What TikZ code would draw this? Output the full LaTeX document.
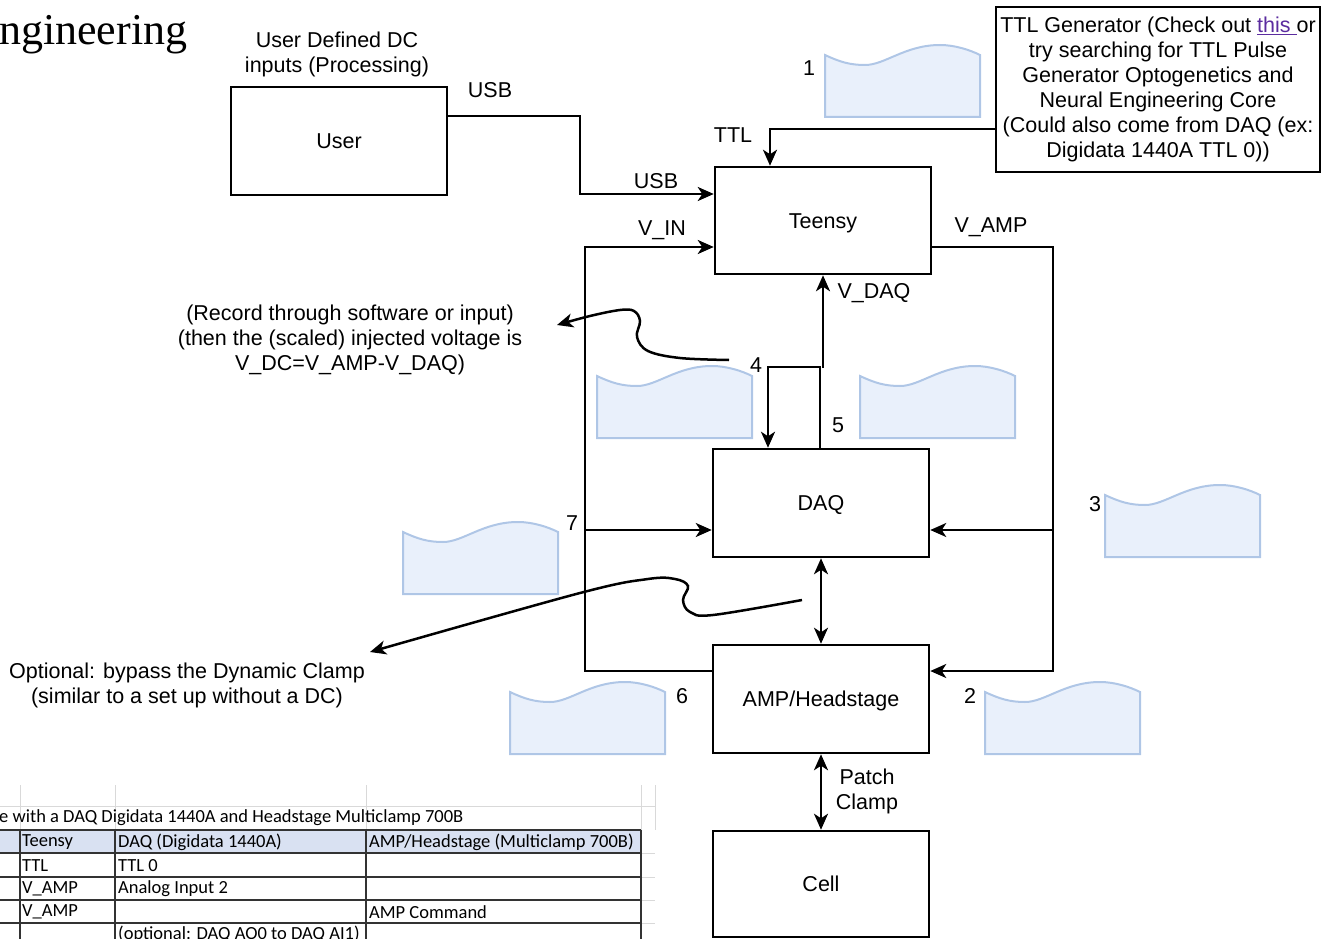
\documentclass[tikz,border=0pt]{standalone}
\usepackage{fontspec}
\setmainfont{Liberation Sans}
\newfontfamily\serifx{Liberation Serif}
\newfontfamily\calibri{Carlito}
\usetikzlibrary{arrows.meta}
\definecolor{docfill}{HTML}{E9F0FB}
\definecolor{docline}{HTML}{AFC6E6}
\definecolor{linkpurple}{HTML}{5B2C9F}
\definecolor{hdrfill}{HTML}{D9E1F2}
\definecolor{gridgray}{HTML}{D9D9D9}
\tikzset{
  docshape/.pic={
    \filldraw[fill=docfill,draw=docline,line width=2pt]
      (0,10) .. controls (15,17) and (25,20) .. (40,20)
      .. controls (60,20) and (80,0) .. (115,0)
      .. controls (130,0) and (145,5) .. (155,10)
      -- (155,72) -- (0,72) -- cycle;
  }
}
\begin{document}
\begin{tikzpicture}[x=1pt,y=-1pt,
  every node/.style={font=\fontsize{21.5}{25}\selectfont, inner sep=0pt},
  box/.style={draw, line width=2.5pt, minimum width=216pt, minimum height=108pt, align=center},
  onel/.style={text height=15pt, text depth=0pt},
  wire/.style={line width=2.5pt},
  arr/.style={wire, -{Stealth[length=16pt,width=14pt,inset=4.5pt]}},
  dbl/.style={wire, {Stealth[length=16pt,width=14pt,inset=4.5pt]}-{Stealth[length=16pt,width=14pt,inset=4.5pt]}},
  lbl/.style={align=center},
  tbl/.style={font=\calibri\fontsize{18.5}{20}\selectfont, anchor=west},
]
\useasboundingbox (0,0) rectangle (1325,939);

% title fragment
\node[font=\serifx\fontsize{44}{48}\selectfont, anchor=base west] (title) at (-1,45) {ngineering};

% document shapes
\pic at (825,45) {docshape};
\pic at (597,366) {docshape};
\pic at (860,366) {docshape};
\pic at (403,522) {docshape};
\pic at (1105,485) {docshape};
\pic at (510,682) {docshape};
\pic at (985,682) {docshape};

% boxes
\node[box, onel] (user) at (339,141) {User};
\node[box, onel, minimum height=107pt] (teensy) at (823,220.5) {Teensy};
\node[box, onel] (daq) at (821,503) {DAQ};
\node[box, onel] (amp) at (821,699) {AMP/Headstage};
\node[box, onel, minimum height=106pt] (cell) at (821,884) {Cell};
\node[box, minimum width=324pt, minimum height=165pt] (ttl) at (1158,89.5)
  {TTL Generator (Check out \textcolor{linkpurple}{\underline{this\ }}or\\
   try searching for TTL Pulse\\
   Generator Optogenetics and\\
   Neural Engineering Core\\
   (Could also come from DAQ (ex:\\
   Digidata 1440A TTL 0))};

% labels
\node[lbl] (userlbl) at (337,54) {User Defined DC\\inputs (Processing)};
\node (usb1) at (490,90) {USB};
\node (usb2) at (656,181) {USB};
\node (ttllbl) at (733,135) {TTL};
\node (vin) at (662,230) {V\_IN};
\node (vamp) at (991,227) {V\_AMP};
\node (vdaq) at (874,293) {V\_DAQ};
\node[lbl] (patch) at (867,791) {Patch\\Clamp};
\node[lbl] (rec) at (350,340) {(Record through software or input)\\(then the (scaled) injected voltage is\\V\_DC=V\_AMP-V\_DAQ)};
\node[lbl] (opt) at (187,685) {Optional: bypass the Dynamic Clamp\\(similar to a set up without a DC)};
\node (n1) at (809,68) {1};
\node (n2) at (970,696) {2};
\node (n3) at (1095,504) {3};
\node (n4) at (756,365) {4};
\node (n5) at (838,425) {5};
\node (n6) at (682,696) {6};
\node (n7) at (572,523) {7};

% connectors
\draw[arr] ([yshift=25pt]user.east) -| (580,194) -- (teensy.west |- 0,194);
\draw[arr] (ttl.west |- 0,129) -| (teensy.north -| 770,0);
\draw[arr] (amp.west |- 0,671) -- (585,671) -- (585,247) -- (teensy.west |- 0,247);
\draw[arr] (585,530) -- (daq.west |- 0,530);
\draw[arr] (teensy.east |- 0,247) -- (1053,247) -- (1053,671) -- (amp.east |- 0,671);
\draw[arr] (1053,530) -- (daq.east |- 0,530);
\draw[arr] (daq.north -| 820,0) -- (820,367) -- (768,367) -- (daq.north -| 768,0);
\draw[arr] (823,368) -- (teensy.south -| 823,0);
\draw[dbl] (daq.south) -- (amp.north);
\draw[dbl] (amp.south) -- (cell.north);

% annotation curves
\coordinate (c1s) at (729,360);
\coordinate (c1e) at (557,325);
\draw[arr] plot[smooth, tension=0.6] coordinates
  {(c1s) (680,358) (648,351) (637,337) (640,321) (634,311) (620,310) (590,316) (c1e)};
\coordinate (c2s) at (802,600);
\coordinate (c2e) at (370,652);
\draw[arr] plot[smooth, tension=0.6] coordinates
  {(c2s) (713,615) (690,612) (683,600) (688,586) (675,579) (648,579) (580,593) (c2e)};

% spreadsheet fragment
\begin{scope}
\clip (-1,785) rectangle (660,940);
\fill[hdrfill] (0,830) rectangle (641,853);
\foreach \x in {20,115,366,641,655} \draw[gridgray, line width=1pt] (\x,785) -- (\x,830);
\draw[gridgray, line width=1pt] (0,806) -- (655,806);
\foreach \y in {853,877,900,923} \draw[gridgray, line width=1pt] (641,\y) -- (655,\y);
\foreach \y in {830,853,877,900,923} \draw[black!80, line width=1.2pt] (0,\y) -- (641,\y);
\foreach \x in {20,115,366,641} \draw[black!80, line width=1.2pt] (\x,830) -- (\x,940);
\node[tbl] (t0) at (-1,818) {e with a DAQ Digidata 1440A and Headstage Multiclamp 700B};
\node[tbl] (h1) at (22,842) {Teensy};
\node[tbl] (h2) at (118,842) {DAQ (Digidata 1440A)};
\node[tbl] (h3) at (369,842) {AMP/Headstage (Multiclamp 700B)};
\node[tbl] (r1a) at (22,866) {TTL};
\node[tbl] (r1b) at (118,866) {TTL 0};
\node[tbl] (r2a) at (22,889) {V\_AMP};
\node[tbl] (r2b) at (118,889) {Analog Input 2};
\node[tbl] (r3a) at (22,912) {V\_AMP};
\node[tbl] (r3c) at (369,912) {AMP Command};
\node[tbl] (r4b) at (118,934) {(optional: DAQ AO0 to DAQ AI1)};
\end{scope}
\end{tikzpicture}
\end{document}
